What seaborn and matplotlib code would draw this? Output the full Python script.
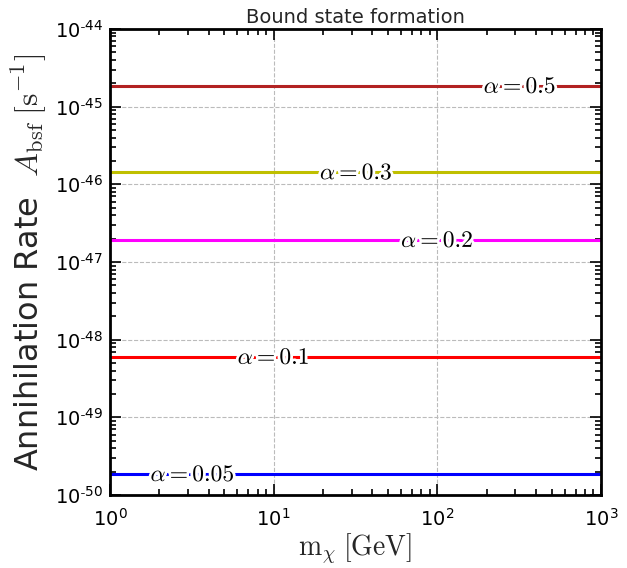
import matplotlib
matplotlib.use("Agg")
import matplotlib.pyplot as plt
import matplotlib.patheffects as pe
from matplotlib.ticker import FuncFormatter, LogLocator
import numpy as np
import pandas as pd
import seaborn as sns

# Datos
alphas = ["0.05", "0.1", "0.2", "0.3", "0.5"]
rates = [1.86e-50, 6.0e-49, 1.92e-47, 1.43e-46, 1.85e-45]
label_x = [3.2, 10, 100, 32, 320]
colores = ["blue", "red", "magenta", (0.75, 0.75, 0.0), "#b22222"]
masas = [1, 1000]

sns.set_style("ticks")
plt.rcParams["font.family"] = ["DejaVu Sans"]
plt.rcParams["mathtext.fontset"] = "cm"

filas = []
for a, r in zip(alphas, rates):
    for m in masas:
        filas.append({"alpha": a, "masa": m, "rate": r})
data = pd.DataFrame(filas)

fig = plt.figure(figsize=(6.27, 5.68), dpi=100)
ax = fig.add_axes([0.1754, 0.1285, 0.7831, 0.8205])

sns.lineplot(data=data, x="masa", y="rate", hue="alpha", palette=colores,
             hue_order=alphas, linewidth=2.2, legend=False, ax=ax)

ax.set_xscale("log")
ax.set_yscale("log")
ax.set_xlim(1, 1000)
ax.set_ylim(1e-50, 1e-44)

# Etiquetas sobre las lineas
for a, r, x in zip(alphas, rates, label_x):
    ax.text(x, r, r"$\alpha = %s$" % a, fontsize=17, ha="center", va="center",
            color="black",
            path_effects=[pe.withStroke(linewidth=4, foreground="white")])

ax.grid(True, which="major", color="#bbbbbb", linestyle="--", linewidth=0.8)
ax.set_axisbelow(True)

for s in ax.spines.values():
    s.set_linewidth(2)
    s.set_color("black")

ax.tick_params(which="both", direction="in", top=True, right=True, width=1.2,
               colors="black", labelsize=14)
ax.tick_params(which="major", length=8)
ax.tick_params(which="minor", length=4)
ax.tick_params(axis="x", which="major", pad=9)
ax.tick_params(axis="y", which="major", pad=5)
ax.yaxis.set_minor_locator(LogLocator(base=10, subs=np.arange(2, 10), numticks=20))
ax.xaxis.set_minor_locator(LogLocator(base=10, subs=np.arange(2, 10), numticks=20))


def fmt(v, pos):
    e = int(round(np.log10(v)))
    return r"$\mathdefault{10^{%s}}$" % (str(e).replace("-", r"\text{-}"))


ax.xaxis.set_major_formatter(FuncFormatter(fmt))
ax.yaxis.set_major_formatter(FuncFormatter(fmt))

ax.set_title("Bound state formation", fontsize=14, pad=4)
ax.set_xlabel(r"$\mathrm{m}_\chi\;[\mathrm{GeV}]$", fontsize=20, labelpad=2)
ax.set_ylabel(r"Annihilation Rate  $A_{\rm bsf}\;[\mathrm{s}^{-1}]$", fontsize=23,
              labelpad=4)

plt.savefig("out.png", dpi=100)
plt.close()
